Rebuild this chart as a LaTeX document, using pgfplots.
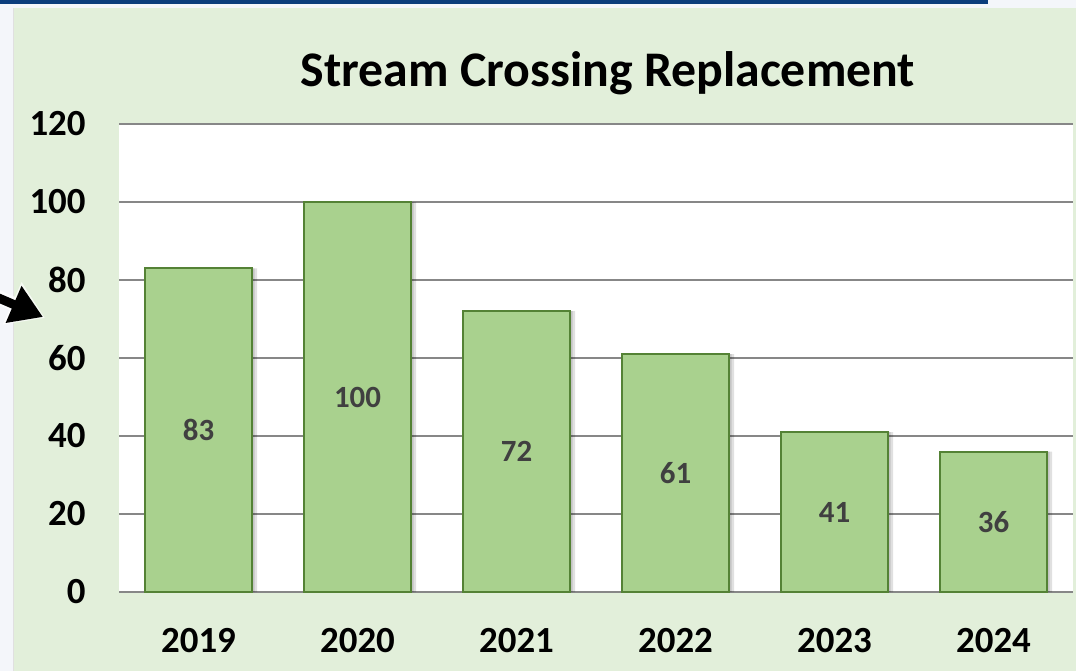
\documentclass[border=0pt]{standalone}
\usepackage{pgfplots}
\pgfplotsset{compat=1.18}
\usepackage{pgfplotstable}
\usepackage{fontspec}
\setmainfont{Carlito}
\usetikzlibrary{arrows.meta}
\definecolor{panel}{HTML}{E2EFDA}
\definecolor{page}{HTML}{F4F6FA}
\definecolor{topbar}{HTML}{0B3D7C}
\definecolor{barfill}{HTML}{A9D18E}
\definecolor{baredge}{HTML}{548235}
\definecolor{gridc}{HTML}{878787}
\definecolor{lbl}{HTML}{404040}

\pgfplotstableread{
x year val
0 2019 83
1 2020 100
2 2021 72
3 2022 61
4 2023 41
5 2024 36
}\datatable

\begin{document}
\begin{tikzpicture}
\useasboundingbox (0bp,0bp) rectangle (538bp,-335.5bp);
\clip (0bp,0bp) rectangle (538bp,-335.5bp);
\fill[page] (0bp,0bp) rectangle (538bp,-335.5bp);
\fill[topbar] (0bp,0bp) rectangle (494bp,-2.2bp);
\fill[panel] (6.8bp,-4bp) rectangle (538bp,-335.5bp);
\draw[black!12, line width=0.8bp] (6.8bp,-4bp) -- (6.8bp,-335.5bp);
\node[font=\bfseries\fontsize{25}{29}\selectfont, text=black] at (304bp,-36.5bp) {Stream Crossing Replacement};
\begin{axis}[
  at={(59.5bp,-296bp)}, anchor=south west,
  width=477bp, height=234bp, scale only axis,
  xmin=-0.5, xmax=5.5, ymin=0, ymax=120,
  ytick={0,20,...,120},
  xtick={0,...,5},
  xticklabels={2019,2020,2021,2022,2023,2024},
  axis background/.style={fill=white},
  axis line style={draw=none},
  ymajorgrids, grid style={gridc, line width=1bp},
  major tick length=0pt,
  /pgf/number format/assume math mode=true,
  yticklabel style={font=\bfseries\fontsize{18.5}{21}\selectfont, anchor=east, inner sep=0pt, xshift=-16.5bp},
  xticklabel style={font=\bfseries\fontsize{18.5}{21}\selectfont, anchor=north, inner sep=0pt, yshift=-18bp},
  clip=false,
]
\addplot[ybar, bar width=0.667, bar shift=0.035, fill=black, fill opacity=0.12, draw=none] table[x=x, y=val] {\datatable};
\addplot[ybar, bar width=0.667, bar shift=0.02, fill=black, fill opacity=0.12, draw=none] table[x=x, y=val] {\datatable};
\addplot[ybar, bar width=0.667, bar shift=0, fill=barfill, draw=baredge, line width=1bp] table[x=x, y=val] {\datatable};
\addplot[draw=none, mark=none, nodes near coords, point meta=explicit,
  nodes near coords style={font=\bfseries\fontsize{15.5}{18}\selectfont, text=lbl, anchor=center}]
  table[x=x, y expr=\thisrow{val}/2, meta=val] {\datatable};
\end{axis}
\draw[white, opacity=0.7, line width=7bp, -{Triangle[length=18bp,width=22bp]}] (-10bp,-144.5bp) -- (22.5bp,-159bp);
\draw[line width=4.5bp, -{Triangle[length=16bp,width=19bp]}] (-10bp,-145bp) -- (21.5bp,-158.5bp);
\end{tikzpicture}
\end{document}
